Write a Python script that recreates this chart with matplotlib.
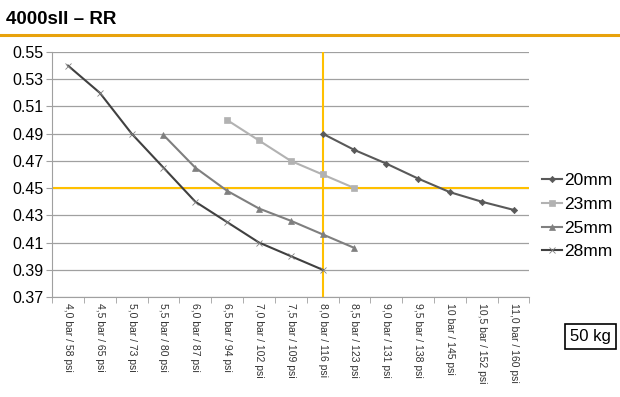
import numpy as np
import matplotlib.pyplot as plt

labels = ["4,0 bar / 58 psi", "4,5 bar / 65 psi", "5,0 bar / 73 psi", "5,5 bar / 80 psi",
          "6,0 bar / 87 psi", "6,5 bar / 94 psi", "7,0 bar / 102 psi", "7,5 bar / 109 psi",
          "8,0 bar / 116 psi", "8,5 bar / 123 psi", "9,0 bar / 131 psi", "9,5 bar / 138 psi",
          "10 bar / 145 psi", "10,5 bar / 152 psi", "11,0 bar / 160 psi"]

nan = np.nan
rr_20 = [nan] * 8 + [0.490, 0.478, 0.468, 0.457, 0.447, 0.440, 0.434]
rr_23 = [nan] * 5 + [0.500, 0.485, 0.470, 0.460, 0.450] + [nan] * 5
rr_25 = [nan] * 3 + [0.489, 0.465, 0.448, 0.435, 0.426, 0.416, 0.406] + [nan] * 5
rr_28 = [0.540, 0.520, 0.490, 0.465, 0.440, 0.425, 0.410, 0.400, 0.390] + [nan] * 6

target_rr = 0.45
target_idx = 8

fig = plt.figure(figsize=(6.2, 3.97), dpi=100)
fig.text(0.010, 0.952, "4000sII \u2013 RR", fontsize=13.5, fontweight="bold",
         family="Liberation Sans", va="center")
fig.add_artist(plt.Line2D([0, 1], [0.913, 0.913], color="#E8A20C", lw=2.2,
                          transform=fig.transFigure))

ax = fig.add_axes([0.084, 0.252, 0.770, 0.617])
x = np.arange(len(labels))
series = [("20mm", rr_20, "#595959", "D", 3.2, 1.5),
          ("23mm", rr_23, "#B2B2B2", "s", 5, 1.5),
          ("25mm", rr_25, "#7F7F7F", "^", 5, 1.5),
          ("28mm", rr_28, "#404040", "x", 4, 0.6)]
for name, vals, col, mk, ms, mew in series:
    ax.plot(x, vals, color=col, marker=mk, ms=ms, lw=1.5, label=name,
            markeredgewidth=mew if mk == "x" else 0.5,
            markeredgecolor="#808080" if mk == "x" else col)

ax.axhline(target_rr, color="#FFC000", lw=1.5, zorder=1)
ax.axvline(target_idx, color="#FFC000", lw=1.5, zorder=1, ymin=-0.01, ymax=1.0)

ax.set_xlim(-0.5, len(labels) - 0.5)
ax.set_ylim(0.37, 0.55)
ax.set_yticks(np.arange(0.37, 0.5501, 0.02))
ax.set_yticklabels([f"{v:.2f}" for v in np.arange(0.37, 0.5501, 0.02)],
                   fontsize=11.5, family="Liberation Sans")
ax.set_xticks(x)
ax.set_xticklabels(labels, rotation=270, fontsize=7.5, family="Liberation Sans",
                   color="#333333")
ax.set_xticks(np.arange(-0.5, len(labels), 1), minor=True)
ax.tick_params(axis="x", which="major", length=0, pad=4)
ax.tick_params(axis="x", which="minor", length=4, color="#A0A0A0")
ax.tick_params(axis="y", length=4, color="#A0A0A0", pad=2)
ax.grid(axis="y", color="#A0A0A0", lw=0.9)
ax.set_axisbelow(True)
for s in ["top", "right"]:
    ax.spines[s].set_visible(False)
for s in ["left", "bottom"]:
    ax.spines[s].set_color("#A0A0A0")

ax.legend(loc="center left", bbox_to_anchor=(1.0, 0.33), frameon=False,
          prop={"family": "Liberation Sans", "size": 12.5}, handlelength=1.2,
          handletextpad=0.1, labelspacing=0.5, borderaxespad=0.3)

fig.text(0.953, 0.152, "50 kg", fontsize=12, family="Liberation Sans",
         ha="center", va="center",
         bbox=dict(boxstyle="square,pad=0.3", fc="white", ec="black", lw=1.2))

fig.savefig("out.png", dpi=100)
